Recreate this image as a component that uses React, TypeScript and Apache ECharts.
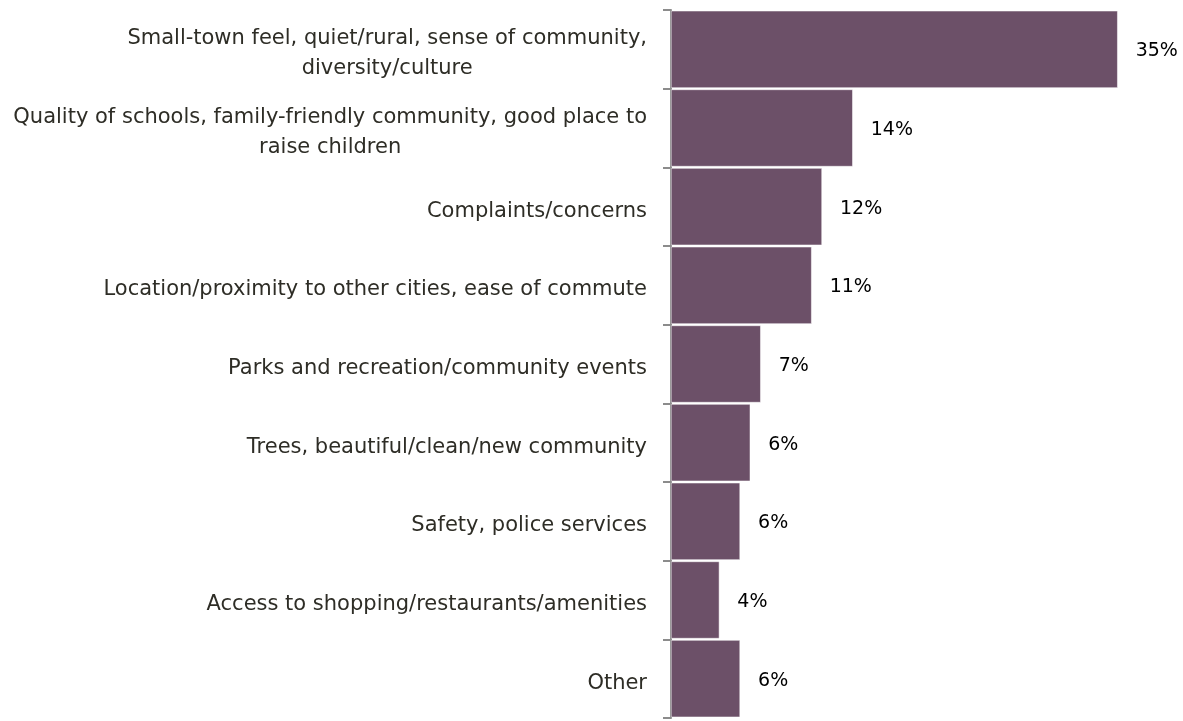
import React, { useEffect, useRef } from "react";
import * as echarts from "echarts";

const categories = [
  "Small-town feel, quiet/rural, sense of community,\ndiversity/culture",
  "Quality of schools, family-friendly community, good place to\nraise children",
  "Complaints/concerns",
  "Location/proximity to other cities, ease of commute",
  "Parks and recreation/community events",
  "Trees, beautiful/clean/new community",
  "Safety, police services",
  "Access to shopping/restaurants/amenities",
  "Other",
];
const values = [35, 14.24, 11.83, 11.02, 7.03, 6.21, 5.41, 3.79, 5.41];
const valueLabels = ["35%", "14%", "12%", "11%", "7%", "6%", "6%", "4%", "6%"];

const FONT = "'DejaVu Sans', sans-serif";

export default function App() {
  const ref = useRef<HTMLDivElement>(null);
  useEffect(() => {
    if (!ref.current) return;
    const chart = echarts.init(ref.current, undefined, { renderer: "svg" });
    chart.setOption({
      animation: false,
      grid: { left: 671, top: 10, width: 510.5, height: 708 },
      xAxis: {
        type: "value",
        min: 0,
        max: 40,
        show: false,
      },
      yAxis: {
        type: "category",
        inverse: true,
        data: categories,
        axisLine: { show: true, lineStyle: { color: "#8c8c8c", width: 2 } },
        axisTick: { show: true, length: 8, lineStyle: { color: "#8c8c8c", width: 2 } },
        axisLabel: {
          margin: 24,
          padding: [6, 0, 0, 0],
          color: "#2e2d26",
          fontFamily: FONT,
          fontSize: 21,
          lineHeight: 30,
          formatter: (v: string) =>
            v
              .split("\n")
              .map((l) => `{c|${l}}`)
              .join("\n"),
          rich: {
            c: {
              align: "center",
              color: "#2e2d26",
              fontFamily: FONT,
              fontSize: 21,
              lineHeight: 30,
            },
          },
        },
      },
      series: [
        {
          type: "bar",
          data: values,
          barCategoryGap: "2%",
          itemStyle: { color: "#6c5068", borderColor: "#ffffff", borderWidth: 0.5 },
          label: {
            show: true,
            position: "right",
            distance: 18,
            color: "#000000",
            fontFamily: FONT,
            fontSize: 19,
            formatter: (p: any) => valueLabels[p.dataIndex],
          },
        },
      ],
    });
    return () => chart.dispose();
  }, []);
  return (
    <div
      ref={ref}
      style={{ position: "fixed", left: 0, top: 0, width: 1183, height: 721 }}
    />
  );
}
